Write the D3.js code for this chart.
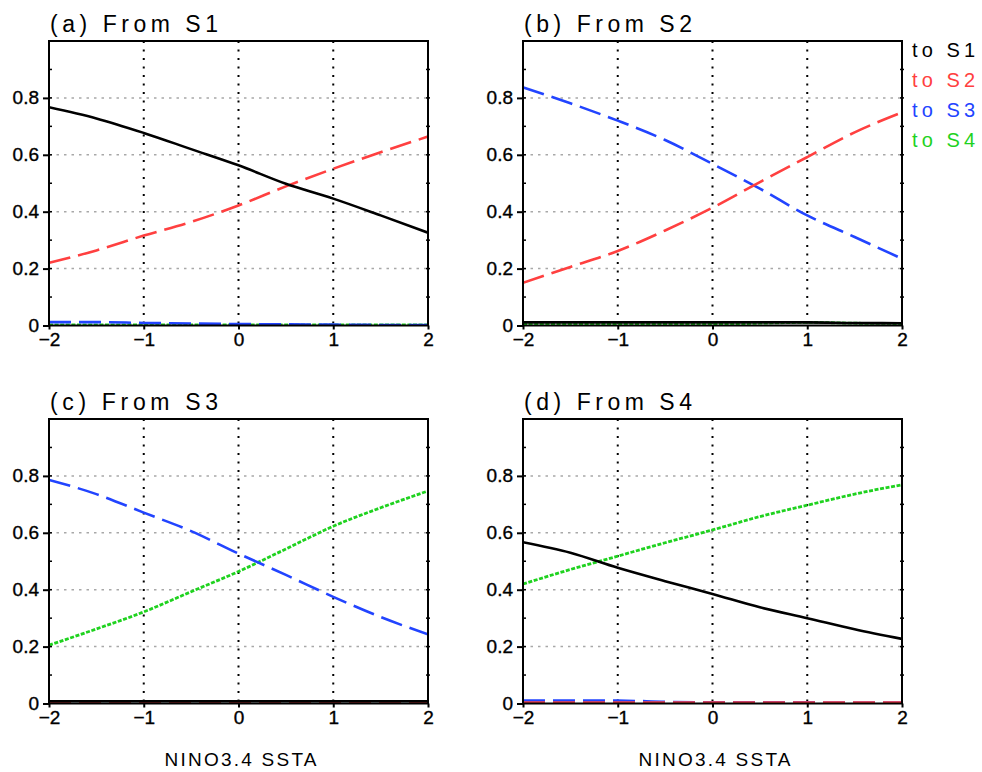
<!DOCTYPE html>
<html>
<head>
<meta charset="utf-8">
<script src="https://cdn.jsdelivr.net/npm/d3@7"></script>
<style>
  html, body { margin: 0; padding: 0; background: #fff; }
  svg { display: block; }
  text { font-family: "Liberation Sans", Arial, sans-serif; }
</style>
</head>
<body>
<svg id="chart" width="982" height="772"></svg>
<script>
// ---- data ----
const xValues = [-2, -1.5, -1, -0.5, 0, 0.5, 1, 1.5, 2];
const xTicks = [-2, -1, 0, 1, 2];
const yTicks = [0, 0.2, 0.4, 0.6, 0.8];
const yTickLabels = ["0", "0.2", "0.4", "0.6", "0.8"];
const panelTitles = ["(a) From S1", "(b) From S2", "(c) From S3", "(d) From S4"];
const seriesNames = ["to S1", "to S2", "to S3", "to S4"];
const xAxisTitle = "NINO3.4 SSTA";

// panel (a) From S1
const fromS1_toS1 = [0.767, 0.728, 0.677, 0.620, 0.563, 0.498, 0.446, 0.387, 0.326];
const fromS1_toS2 = [0.220, 0.264, 0.316, 0.364, 0.422, 0.489, 0.551, 0.609, 0.664];
const fromS1_toS3 = [0.012, 0.012, 0.009, 0.007, 0.005, 0.004, 0.003, 0.002, 0.002];
const fromS1_toS4 = [0.002, 0.002, 0.002, 0.002, 0.002, 0.002, 0.002, 0.002, 0.002];
// panel (b) From S2
const fromS2_toS1 = [0.011, 0.011, 0.011, 0.011, 0.011, 0.011, 0.011, 0.009, 0.008];
const fromS2_toS2 = [0.150, 0.206, 0.262, 0.334, 0.414, 0.504, 0.592, 0.679, 0.749];
const fromS2_toS3 = [0.837, 0.781, 0.720, 0.652, 0.568, 0.481, 0.387, 0.311, 0.235];
const fromS2_toS4 = [0.004, 0.004, 0.004, 0.004, 0.004, 0.008, 0.011, 0.008, 0.007];
// panel (c) From S3
const fromS3_toS1 = [0.008, 0.008, 0.008, 0.008, 0.008, 0.008, 0.008, 0.008, 0.008];
const fromS3_toS2 = [0.002, 0.002, 0.002, 0.002, 0.002, 0.002, 0.002, 0.002, 0.002];
const fromS3_toS3 = [0.786, 0.736, 0.671, 0.606, 0.527, 0.452, 0.375, 0.304, 0.243];
const fromS3_toS4 = [0.205, 0.262, 0.322, 0.393, 0.464, 0.543, 0.623, 0.688, 0.747];
// panel (d) From S4
const fromS4_toS1 = [0.567, 0.530, 0.477, 0.430, 0.385, 0.338, 0.300, 0.261, 0.227];
const fromS4_toS2 = [0.003, 0.003, 0.003, 0.003, 0.003, 0.003, 0.003, 0.003, 0.003];
const fromS4_toS3 = [0.010, 0.010, 0.010, 0.006, 0.004, 0.004, 0.004, 0.003, 0.003];
const fromS4_toS4 = [0.420, 0.471, 0.518, 0.565, 0.610, 0.657, 0.697, 0.736, 0.769];

const panelSeries = [
  [fromS1_toS1, fromS1_toS2, fromS1_toS3, fromS1_toS4],
  [fromS2_toS1, fromS2_toS2, fromS2_toS3, fromS2_toS4],
  [fromS3_toS1, fromS3_toS2, fromS3_toS3, fromS3_toS4],
  [fromS4_toS1, fromS4_toS2, fromS4_toS3, fromS4_toS4]
];

// ---- styles ----
const colors = ["#000000", "#ff4040", "#2244ff", "#1fd21f"];
const dashes = [null, "22,8", "22,8", "4,1.6"];
const panelPos = [
  {x: 49, y: 41}, {x: 523, y: 41},
  {x: 49, y: 419}, {x: 523, y: 419}
];
const W = 379, H = 284.5;

const svg = d3.select("#chart");
const x = d3.scaleLinear().domain([-2, 2]).range([0, W]);
const y = d3.scaleLinear().domain([0, 1]).range([H, 0]);

panelSeries.forEach((series, pi) => {
  const p = panelPos[pi];
  const g = svg.append("g").attr("transform", `translate(${p.x},${p.y})`);

  const cid = "clip" + pi;
  g.append("clipPath").attr("id", cid).append("rect")
    .attr("x", 0).attr("y", -2).attr("width", W).attr("height", H + 2);

  // horizontal gray dotted grid
  g.selectAll(".hgrid").data(yTicks.filter(d => d > 0)).enter().append("line")
    .attr("x1", 0).attr("x2", W)
    .attr("y1", d => y(d)).attr("y2", d => y(d))
    .attr("stroke", "#a8a8a8").attr("stroke-width", 1.5)
    .attr("stroke-dasharray", "2.5,5");

  // vertical black dotted grid
  g.selectAll(".vgrid").data(xTicks.filter(d => d > -2 && d < 2)).enter().append("line")
    .attr("x1", d => x(d)).attr("x2", d => x(d))
    .attr("y1", 0).attr("y2", H)
    .attr("stroke", "#000").attr("stroke-width", 2)
    .attr("stroke-dasharray", "2,6.5");

  // series lines
  const line = d3.line()
    .x((d, i) => x(xValues[i]))
    .y(d => y(d))
    .curve(d3.curveMonotoneX);
  [3, 2, 1, 0].forEach(si => {
    g.append("path")
      .attr("clip-path", `url(#${cid})`)
      .attr("d", line(series[si]))
      .attr("fill", "none")
      .attr("stroke", colors[si])
      .attr("stroke-width", si === 3 ? 2.8 : 2.6)
      .attr("stroke-dasharray", dashes[si]);
  });

  // minor ticks every 0.1
  const minor = d3.range(1, 10).map(d => d / 10);
  g.selectAll(".ml").data(minor).enter().append("line")
    .attr("x1", 0).attr("x2", 3)
    .attr("y1", d => y(d)).attr("y2", d => y(d))
    .attr("stroke", "#000").attr("stroke-width", 1.5);
  g.selectAll(".mr").data(minor).enter().append("line")
    .attr("x1", W - 2).attr("x2", W + 2)
    .attr("y1", d => y(d)).attr("y2", d => y(d))
    .attr("stroke", "#000").attr("stroke-width", 1.5);

  // left axis
  const yAxis = d3.axisLeft(y).tickValues(yTicks)
    .tickFormat((d, i) => yTickLabels[i]).tickSize(6).tickPadding(4);
  const ya = g.append("g").call(yAxis);
  ya.select(".domain").remove();
  ya.selectAll(".tick line").attr("stroke", "#000").attr("stroke-width", 2);
  ya.selectAll(".tick text")
    .attr("font-size", 19).attr("fill", "#000")
    .attr("stroke", "#000").attr("stroke-width", 0.35)
    .attr("font-family", "Liberation Sans, Arial, sans-serif");

  // bottom axis
  const xAxis = d3.axisBottom(x).tickValues(xTicks)
    .tickFormat(d => d < 0 ? "\u2212" + Math.abs(d) : String(d))
    .tickSize(4).tickPadding(3);
  const xa = g.append("g").attr("transform", `translate(0,${H})`).call(xAxis);
  xa.select(".domain").remove();
  xa.selectAll(".tick line").attr("stroke", "#000").attr("stroke-width", 2);
  xa.selectAll(".tick text")
    .attr("font-size", 19).attr("fill", "#000")
    .attr("stroke", "#000").attr("stroke-width", 0.35)
    .attr("font-family", "Liberation Sans, Arial, sans-serif");

  // frame
  g.append("rect").attr("x", 0).attr("y", 0).attr("width", W).attr("height", H)
    .attr("fill", "none").attr("stroke", "#000").attr("stroke-width", 2);

  // title
  g.append("text")
    .attr("x", 1).attr("y", -9)
    .attr("font-size", 23)
    .attr("textLength", 168).attr("lengthAdjust", "spacing")
    .attr("fill", "#000")
    .text(panelTitles[pi]);

  // x axis title for bottom row
  if (pi >= 2) {
    g.append("text")
      .attr("x", W / 2 + 2).attr("y", H + 62)
      .attr("text-anchor", "middle")
      .attr("font-size", 19)
      .attr("textLength", 152).attr("lengthAdjust", "spacing")
      .attr("fill", "#000")
      .text(xAxisTitle);
  }
});

// legend
const legend = svg.append("g").attr("transform", "translate(912,0)");
legend.selectAll("text").data(seriesNames).enter().append("text")
  .attr("x", 0)
  .attr("y", (d, i) => 57 + i * 30)
  .attr("font-size", 20)
  .attr("textLength", 63).attr("lengthAdjust", "spacing")
  .attr("fill", (d, i) => colors[i])
  .text(d => d);
</script>
</body>
</html>
